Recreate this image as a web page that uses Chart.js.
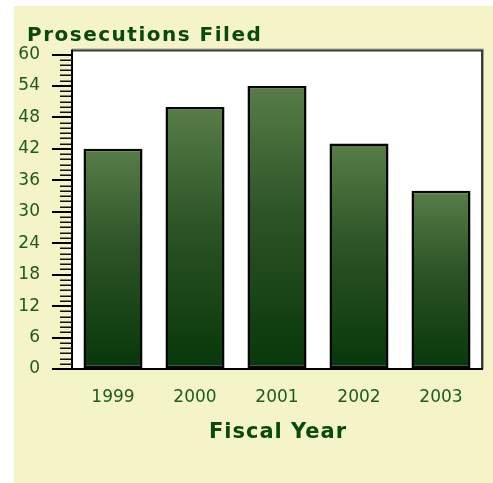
<!DOCTYPE html>
<html>
<head>
<meta charset="utf-8">
<script src="https://cdn.jsdelivr.net/npm/chart.js@4/dist/chart.umd.min.js"></script>
<style>
  html, body { margin: 0; padding: 0; background: #ffffff; width: 493px; height: 483px; overflow: hidden; }
  #panel { position: absolute; left: 14px; top: 6px; width: 479px; height: 477px; background: #f4f4c8; }
  canvas { display: block; }
</style>
</head>
<body>
<div id="panel"><canvas id="c" width="479" height="477"></canvas></div>
<script>
const chartTitle = 'Prosecutions Filed';
const xAxisTitle = 'Fiscal Year';
const categories = ['1999', '2000', '2001', '2002', '2003'];
const prosecutions = [42, 50, 54, 43, 34];
const yTickValues = [0, 6, 12, 18, 24, 30, 36, 42, 48, 54, 60];

const barGradient = (ctx) => {
  const chart = ctx.chart;
  const y = chart.scales && chart.scales.y;
  if (!chart.chartArea || !y || ctx.raw === undefined) return '#2a5222';
  const top = y.getPixelForValue(ctx.raw);
  const bot = y.getPixelForValue(0);
  if (!isFinite(top) || !isFinite(bot) || bot - top < 1) return '#2a5222';
  const g = chart.ctx.createLinearGradient(0, top, 0, bot);
  g.addColorStop(0, '#587d48');
  g.addColorStop(0.45, '#2d5426');
  g.addColorStop(1, '#07370a');
  return g;
};

const plotBg = {
  id: 'plotBg',
  beforeDatasetsDraw(chart) {
    const { ctx, chartArea: a } = chart;
    ctx.save();
    ctx.fillStyle = '#ffffff';
    ctx.fillRect(a.left, a.top - 4, a.right - a.left, a.bottom - a.top + 4);
    ctx.strokeStyle = '#a0a0a0';
    ctx.lineWidth = 1;
    ctx.beginPath();
    ctx.moveTo(a.left, a.top - 5.5);
    ctx.lineTo(a.right + 1.5, a.top - 5.5);
    ctx.lineTo(a.right + 1.5, a.bottom);
    ctx.stroke();
    ctx.strokeStyle = '#3a3a3a';
    ctx.lineWidth = 2;
    ctx.beginPath();
    ctx.moveTo(a.left, a.top - 4);
    ctx.lineTo(a.right, a.top - 4);
    ctx.lineTo(a.right, a.bottom);
    ctx.stroke();
    ctx.restore();
  },
  afterDraw(chart) {
    const { ctx, chartArea: a, scales } = chart;
    const y = scales.y;
    ctx.save();
    ctx.strokeStyle = '#111111';
    ctx.lineWidth = 1.5;
    for (let v = y.min; v <= y.max; v += 1) {
      if (yTickValues.includes(v)) continue;
      const py = Math.round(y.getPixelForValue(v)) + 0.25;
      ctx.beginPath();
      ctx.moveTo(a.left - 12, py);
      ctx.lineTo(a.left, py);
      ctx.stroke();
    }
    ctx.strokeStyle = '#000000';
    ctx.lineWidth = 2;
    ctx.beginPath();
    ctx.moveTo(a.left, a.top - 5);
    ctx.lineTo(a.left, a.bottom);
    ctx.stroke();
    ctx.beginPath();
    ctx.moveTo(a.left - 20, a.bottom);
    ctx.lineTo(a.right + 1, a.bottom);
    ctx.stroke();
    // chart title
    ctx.fillStyle = '#0b480b';
    ctx.font = 'bold 20px "DejaVu Sans"';
    ctx.letterSpacing = '1.5px';
    ctx.textBaseline = 'alphabetic';
    ctx.textAlign = 'left';
    ctx.fillText(chartTitle, 13, 35);
    // x axis title
    ctx.font = 'bold 21px "DejaVu Sans"';
    ctx.letterSpacing = '1px';
    ctx.textAlign = 'center';
    ctx.fillText(xAxisTitle, (a.left + a.right) / 2 + 1, 432);
    ctx.restore();
  }
};

new Chart(document.getElementById('c'), {
  type: 'bar',
  data: {
    labels: categories,
    datasets: [{
      data: prosecutions,
      backgroundColor: barGradient,
      borderColor: '#050505',
      borderWidth: 2.5,
      borderSkipped: false,
      categoryPercentage: 1,
      barPercentage: 0.72
    }]
  },
  options: {
    responsive: false,
    animation: false,
    events: [],
    layout: { padding: { left: 4, top: 48.5, right: 11, bottom: 74 } },
    plugins: { legend: { display: false }, tooltip: { enabled: false }, title: { display: false } },
    scales: {
      x: {
        grid: { display: false, drawTicks: false },
        border: { display: false },
        ticks: { color: '#1f5a1f', font: { family: 'DejaVu Sans', size: 17 }, padding: 18, maxRotation: 0 },
        afterFit(scale) { scale.height = 40; }
      },
      y: {
        min: 0, max: 60,
        afterBuildTicks(scale) { scale.ticks = yTickValues.map(v => ({ value: v })); },
        afterFit(scale) { scale.width = 54; },
        grid: { drawOnChartArea: false, tickLength: 20, tickColor: '#000000', lineWidth: 2 },
        border: { display: false },
        ticks: { color: '#1f5a1f', font: { family: 'DejaVu Sans', size: 17 }, padding: 12 }
      }
    }
  },
  plugins: [plotBg]
});
</script>
</body>
</html>
